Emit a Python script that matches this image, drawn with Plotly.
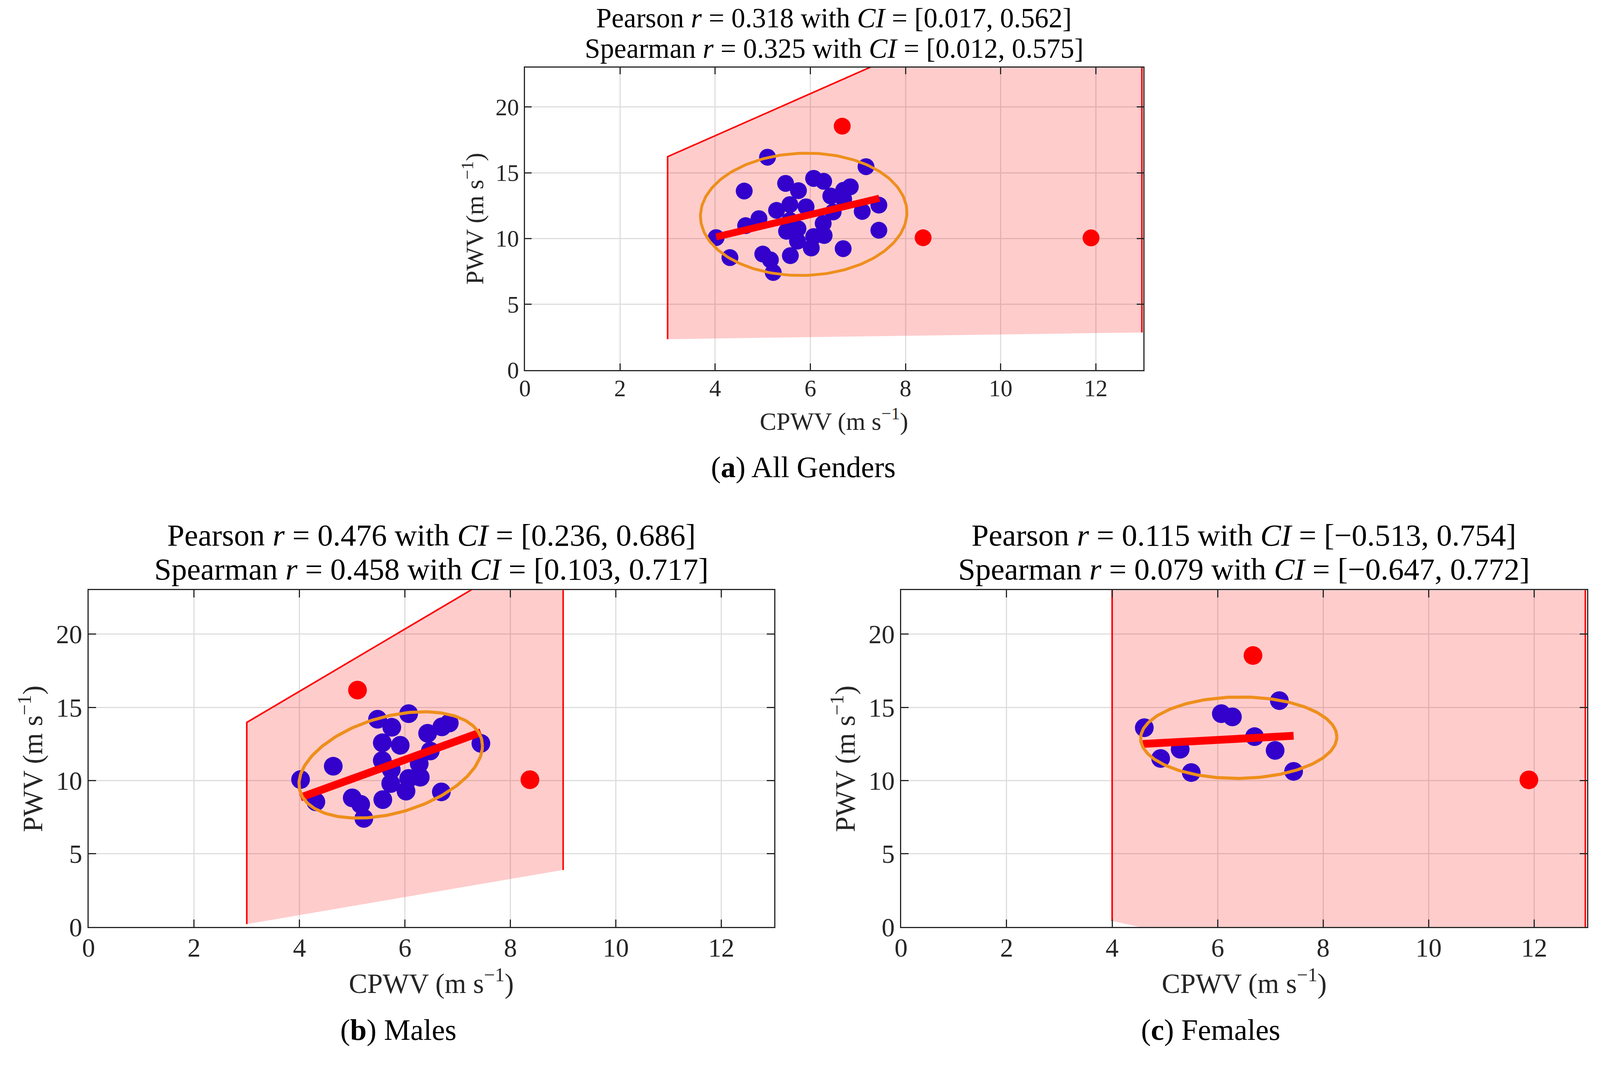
import numpy as np
import plotly.graph_objects as go

# ---- data ----
male_x = [4.02, 4.31, 4.64, 5.48, 6.07, 5.75, 5.57, 5.91, 6.43, 6.70, 6.84, 6.48, 7.44,
          5.57, 5.74, 6.27, 6.29, 6.07, 5.73, 6.02, 6.69, 5.58, 5.00, 5.16, 5.22]
male_y = [10.07, 8.55, 10.98, 14.19, 14.57, 13.64, 12.58, 12.41, 13.23, 13.67, 13.93, 12.02, 12.54,
          11.37, 10.75, 11.15, 10.23, 10.15, 9.80, 9.28, 9.23, 8.70, 8.82, 8.38, 7.42]
male_out_x = [5.10, 8.37]
male_out_y = [16.18, 10.06]

female_x = [4.61, 6.07, 6.28, 7.17, 6.70, 5.29, 4.92, 7.09, 5.50, 7.44]
female_y = [13.61, 14.57, 14.35, 15.46, 13.00, 12.14, 11.51, 12.06, 10.55, 10.63]
female_out_x = [6.67, 11.90]
female_out_y = [18.54, 10.05]

# all genders: every subject, with its own outlier set
all_x = male_x + female_x + [male_out_x[0]]
all_y = male_y + female_y + [male_out_y[0]]
all_out_x = [female_out_x[0], male_out_x[1], female_out_x[1]]
all_out_y = [female_out_y[0], male_out_y[1], female_out_y[1]]

# fitted lines (end points)
fit_a_x, fit_a_y = [4.02, 7.45], [10.12, 13.06]
fit_b_x, fit_b_y = [4.02, 7.44], [8.85, 13.30]
fit_c_x, fit_c_y = [4.58, 7.44], [12.50, 13.06]

# ellipses: centre x, centre y, half width, half height, tilt factor
ell_a = [5.86, 11.84, 2.17, 4.65, 0.03]
ell_b = [5.73, 11.07, 1.74, 3.63, 0.36]
ell_c = [6.40, 12.93, 1.86, 2.78, 0.02]

# shaded inlier regions
poly_a_x, poly_a_y = [3.0, 3.0, 9.0, 12.97, 12.97], [2.35, 16.22, 25.8, 25.8, 2.86]
poly_b_x, poly_b_y = [3.0, 3.0, 8.0, 9.0, 9.0], [0.2, 13.97, 24.6, 24.6, 3.9]
poly_c_x, poly_c_y = [4.0, 4.0, 12.97, 12.97], [0.41, 25.0, 25.0, -6.5]

titles = {
    "a": ["Pearson <i>r</i> = 0.318 with <i>CI</i> = [0.017, 0.562]",
          "Spearman <i>r</i> = 0.325 with <i>CI</i> = [0.012, 0.575]"],
    "b": ["Pearson <i>r</i> = 0.476 with <i>CI</i> = [0.236, 0.686]",
          "Spearman <i>r</i> = 0.458 with <i>CI</i> = [0.103, 0.717]"],
    "c": ["Pearson <i>r</i> = 0.115 with <i>CI</i> = [\u22120.513, 0.754]",
          "Spearman <i>r</i> = 0.079 with <i>CI</i> = [\u22120.647, 0.772]"],
}
captions = {"a": "(<b>a</b>) All Genders", "b": "(<b>b</b>) Males", "c": "(<b>c</b>) Females"}

W, H = 4163, 2733
PAD = 8          # default page margin of the html body
FW, FH = W - 2 * PAD, H - 2 * PAD
FONT = "Liberation Serif"
BLUE = "#3300CC"
RED = "#FF0000"
ORANGE = "#EE8F1C"
DARK = "#262626"

def px(x):
    return (x - PAD) / FW

def py(y):
    return 1 - (y - PAD) / FH

fig = go.Figure()

# pixel boxes of the three axes on the page: left, right, top, bottom
panels = {
    "a": dict(box=(1354, 2970, 175, 960), s=0.9, xs=all_x, ys=all_y, ox=all_out_x, oy=all_out_y,
              fx=fit_a_x, fy=fit_a_y, ell=ell_a, polx=poly_a_x, poly=poly_a_y, cap=(2081, 1212)),
    "b": dict(box=(214, 2005, 1531, 2405), s=1.0, xs=male_x, ys=male_y, ox=male_out_x, oy=male_out_y,
              fx=fit_b_x, fy=fit_b_y, ell=ell_b, polx=poly_b_x, poly=poly_b_y, cap=(1024, 2672)),
    "c": dict(box=(2337, 4129, 1531, 2405), s=1.0, xs=female_x, ys=female_y, ox=female_out_x, oy=female_out_y,
              fx=fit_c_x, fy=fit_c_y, ell=ell_c, polx=poly_c_x, poly=poly_c_y, cap=(3146, 2672)),
}

annotations = []
for i, (key, p) in enumerate(panels.items(), start=1):
    xa = "x" if i == 1 else "x%d" % i
    ya = "y" if i == 1 else "y%d" % i
    s = p["s"]
    l, r, t, b = p["box"]

    fig.add_trace(go.Scatter(x=p["polx"], y=p["poly"], mode="lines", fill="toself",
                             fillcolor="rgba(255,0,0,0.2)", line=dict(color=RED, width=4),
                             xaxis=xa, yaxis=ya, showlegend=False, hoverinfo="skip"))
    fig.add_trace(go.Scatter(x=p["xs"], y=p["ys"], mode="markers",
                             marker=dict(color=BLUE, size=48 * s, line=dict(width=0)),
                             xaxis=xa, yaxis=ya, showlegend=False))
    fig.add_trace(go.Scatter(x=p["ox"], y=p["oy"], mode="markers",
                             marker=dict(color=RED, size=48 * s, line=dict(width=0)),
                             xaxis=xa, yaxis=ya, showlegend=False))
    fig.add_trace(go.Scatter(x=p["fx"], y=p["fy"], mode="lines",
                             line=dict(color=RED, width=20 * s),
                             xaxis=xa, yaxis=ya, showlegend=False))
    cx, cy, sx, sy, rho = p["ell"]
    tt = np.linspace(0, 2 * np.pi, 241)
    fig.add_trace(go.Scatter(x=cx + sx * np.cos(tt),
                             y=cy + sy * (rho * np.cos(tt) + np.sqrt(1 - rho ** 2) * np.sin(tt)),
                             mode="lines", line=dict(color=ORANGE, width=8 * s),
                             xaxis=xa, yaxis=ya, showlegend=False))

    common = dict(showgrid=True, gridcolor="#DEDEDE", gridwidth=3, zeroline=False,
                  showline=True, linecolor=DARK, linewidth=3, mirror="ticks",
                  ticks="inside", ticklen=int(19 * s), tickwidth=3, tickcolor=DARK,
                  tickfont=dict(family=FONT, size=67 * s, color=DARK))
    fig.layout["xaxis" if i == 1 else "xaxis%d" % i] = dict(
        common, domain=[px(l), px(r)], range=[0, 13], tickvals=[0, 2, 4, 6, 8, 10, 12],
        anchor=ya, ticklabelstandoff=-8)
    fig.layout["yaxis" if i == 1 else "yaxis%d" % i] = dict(
        common, domain=[py(b), py(t)], range=[0, 23], tickvals=[0, 5, 10, 15, 20],
        anchor=xa, ticklabelstandoff=0)

    mid_x = (l + r) / 2
    tf = dict(family=FONT, size=79 * s, color="black")
    annotations.append(dict(x=px(mid_x), y=py(t - 143 * s), text=titles[key][0], showarrow=False,
                            xref="paper", yref="paper", font=tf, xanchor="center", yanchor="middle"))
    annotations.append(dict(x=px(mid_x), y=py(t - 55 * s), text=titles[key][1], showarrow=False,
                            xref="paper", yref="paper", font=tf, xanchor="center", yanchor="middle"))
    lf = dict(family=FONT, size=71 * s, color=DARK)
    annotations.append(dict(x=px(mid_x), y=py(b + 142 * s), text="CPWV (m s<sup>\u22121</sup>)",
                            showarrow=False, xref="paper", yref="paper", font=lf,
                            xanchor="center", yanchor="middle"))
    annotations.append(dict(x=px(l - 150 * s), y=py((t + b) / 2), text="PWV (m s<sup>\u22121</sup>)",
                            showarrow=False, xref="paper", yref="paper", font=lf, textangle=-90,
                            xanchor="center", yanchor="middle"))
    annotations.append(dict(x=px(p["cap"][0]), y=py(p["cap"][1]), text=captions[key], showarrow=False,
                            xref="paper", yref="paper", font=dict(family=FONT, size=76, color="black"),
                            xanchor="center", yanchor="middle"))

fig.update_layout(autosize=True, margin=dict(l=0, r=0, t=0, b=0),
                  paper_bgcolor="white", plot_bgcolor="white",
                  annotations=annotations, showlegend=False)

# let the figure fill the browser page (minus the body margin)
fig.write_html("out.html", default_width="calc(100vw - 16px)", default_height="calc(100vh - 16px)")
